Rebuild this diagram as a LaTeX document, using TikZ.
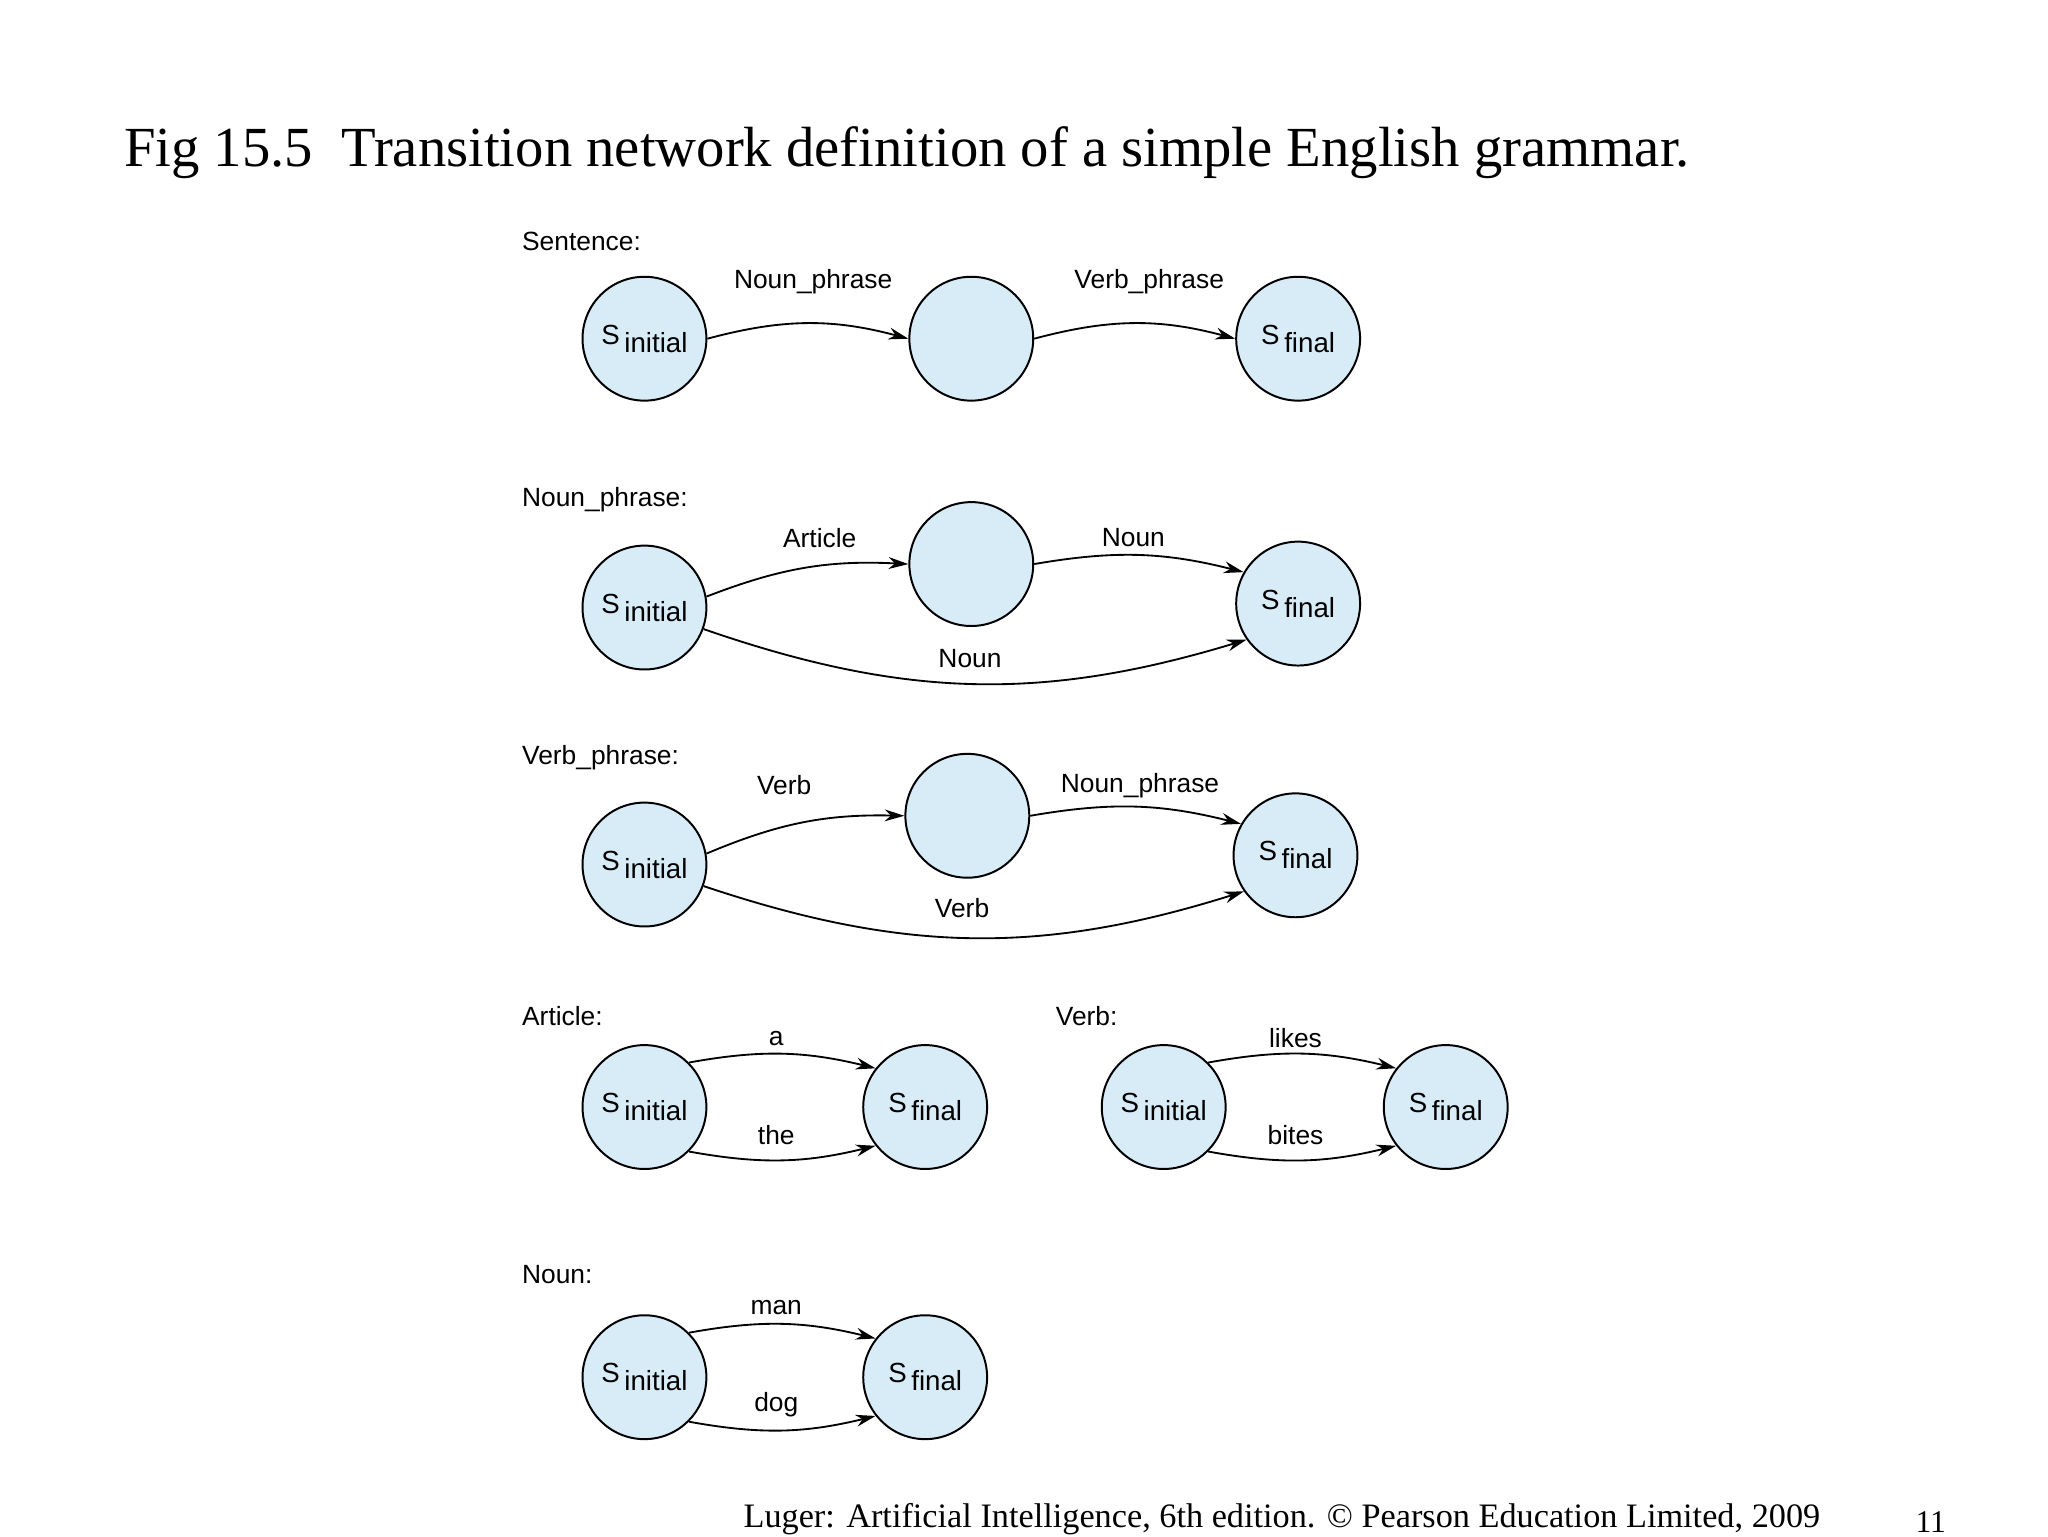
\documentclass[tikz,border=0pt]{standalone}
\usepackage{fontspec}
\setmainfont{Liberation Serif}
\newfontfamily\lsans{Liberation Sans}
\usetikzlibrary{arrows.meta}
\definecolor{stfill}{HTML}{D8ECF8}
\begin{document}
\begin{tikzpicture}[x=1pt,y=-1pt,
  st/.style={circle,draw,line width=1.5pt,fill=stfill,minimum size=94pt,inner sep=0pt,font=\lsans\fontsize{21}{24}\selectfont},
  lab/.style={font=\lsans\fontsize{20}{24}\selectfont,inner sep=2pt},
  hd/.style={font=\lsans\fontsize{20}{24}\selectfont,anchor=west,inner sep=0pt},
  ed/.style={line width=1.4pt,-{Stealth[length=15pt,width=9pt]}}]
\useasboundingbox (0,0) rectangle (1554,1166);
\node[anchor=west,font=\fontsize{43}{46}\selectfont,inner sep=0pt] (title) at (94,116) {Fig 15.5\ \ Transition network definition of a simple English grammar.};
\newcommand{\myinit}{S\,\raisebox{-6pt}{initial}}
\newcommand{\myfin}{S\,\raisebox{-6pt}{final}}
% Sentence
\node[hd] (h1) at (396,183) {Sentence:};
\node[st] (a1) at (489,257) {\myinit};
\node[st] (a2) at (737,257) {};
\node[st] (a3) at (985,257) {\myfin};
\draw[ed] (a1.east) to[bend left=15] (a2.west);
\draw[ed] (a2.east) to[bend left=15] (a3.west);
\node[lab] (l1) at (617,214) {Noun\_phrase};
\node[lab] (l2) at (872,214) {Verb\_phrase};
% Noun phrase
\node[hd] (h2) at (396,379) {Noun\_phrase:};
\node[st] (b1) at (489,461) {\myinit};
\node[st] (b2) at (737,428) {};
\node[st] (b3) at (985,458) {\myfin};
\draw[ed] (b1.10) to[bend left=12] (b2.west);
\draw[ed] (b2.east) to[bend left=12] (b3.150);
\draw[ed] (b1.-20) to[bend right=18] (b3.-145);
\node[lab] (l3) at (622,408) {Article};
\node[lab] (l4) at (860,408) {Noun};
\node[lab] (l5) at (736,500) {Noun};
% Verb phrase
\node[hd] (h3) at (396,575) {Verb\_phrase:};
\node[st] (c1) at (489,656) {\myinit};
\node[st] (c2) at (734,619) {};
\node[st] (c3) at (983,649) {\myfin};
\draw[ed] (c1.10) to[bend left=12] (c2.west);
\draw[ed] (c2.east) to[bend left=12] (c3.150);
\draw[ed] (c1.-20) to[bend right=18] (c3.-145);
\node[lab] (l6) at (595,596) {Verb};
\node[lab] (l7) at (865,596) {Noun\_phrase};
\node[lab] (l8) at (730,689) {Verb};
% Article
\node[hd] (h4) at (396,771) {Article:};
\node[st] (d1) at (489,840) {\myinit};
\node[st] (d2) at (702,840) {\myfin};
\draw[ed] (d1.45) to[bend left=12] (d2.142);
\draw[ed] (d1.-45) to[bend right=12] (d2.-142);
\node[lab] (l9) at (589,788) {a};
\node[lab] (l10) at (589,861) {the};
% Verb
\node[hd] (h5) at (801,771) {Verb:};
\node[st] (e1) at (883,840) {\myinit};
\node[st] (e2) at (1097,840) {\myfin};
\draw[ed] (e1.45) to[bend left=12] (e2.142);
\draw[ed] (e1.-45) to[bend right=12] (e2.-142);
\node[lab] (l11) at (983,788) {likes};
\node[lab] (l12) at (983,861) {bites};
% Noun
\node[hd] (h6) at (396,967) {Noun:};
\node[st] (f1) at (489,1045) {\myinit};
\node[st] (f2) at (702,1045) {\myfin};
\draw[ed] (f1.45) to[bend left=12] (f2.142);
\draw[ed] (f1.-45) to[bend right=12] (f2.-142);
\node[lab] (l13) at (589,992) {man};
\node[lab] (l14) at (589,1066) {dog};
% footer
\node[anchor=west,font=\fontsize{26}{30}\selectfont,inner sep=0pt] (ft) at (564,1153) {Luger: Artificial Intelligence, 6th edition. © Pearson Education Limited, 2009};
\node[font=\fontsize{24}{28}\selectfont,inner sep=0pt] (pg) at (1465,1155) {11};
\end{tikzpicture}
\end{document}
